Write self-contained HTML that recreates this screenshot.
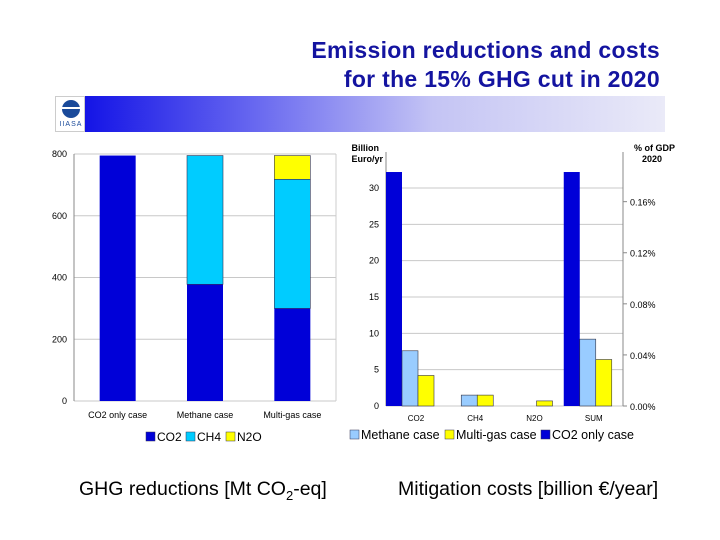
<!DOCTYPE html>
<html><head><meta charset="utf-8"><style>
body{margin:0;width:720px;height:540px;background:#fff;overflow:hidden;font-family:"Liberation Sans",sans-serif;position:relative}
.abs{position:absolute}
</style></head><body>
<div class="abs" style="right:60px;top:36px;text-align:right;color:#1414a0;font-weight:bold;font-size:23px;line-height:29px;letter-spacing:0.3px">Emission reductions and costs<br>for the 15% GHG cut in 2020</div>
<div class="abs" style="left:85px;top:96px;width:580px;height:36px;background:linear-gradient(90deg,#1414e6 0%,#6a6af0 30%,#c4c4f4 60%,#eaeaf8 100%)"></div>
<div class="abs" style="left:55px;top:96px;width:30px;height:36px;border:1px solid #ccc;box-sizing:border-box;background:#fff">
<div style="position:absolute;left:6px;top:3px;width:18px;height:18px;border-radius:50%;background:#1a4a9a"></div>
<div style="position:absolute;left:5px;top:10px;width:20px;height:2px;background:#fff"></div>
<div style="position:absolute;left:0;top:24px;width:30px;text-align:center;font-size:7px;color:#1a4a9a;letter-spacing:1px">IIASA</div>
</div>
<svg class="abs" style="left:0;top:0" width="720" height="540" id="svg"></svg>
<div class="abs" style="left:79px;top:478px;font-size:19.5px">GHG reductions [Mt CO<sub style="font-size:13px">2</sub>-eq]</div>
<div class="abs" style="left:398px;top:478px;font-size:19.5px">Mitigation costs [billion €/year]</div>
<script>
const leftCats=["CO2 only case","Methane case","Multi-gas case"];
const leftCO2=[795,378,300];
const leftCH4=[0,417,418];
const leftN2O=[0,0,77];
const leftTicks=[0,200,400,600,800];
const rightCats=["CO2","CH4","N2O","SUM"];
const rightCO2only=[32.2,0,0,32.2];
const rightMethane=[7.6,1.5,0,9.2];
const rightMulti=[4.2,1.5,0.7,6.4];
const rightTicks=[0,5,10,15,20,25,30];
const pctTicks=["0.00%","0.04%","0.08%","0.12%","0.16%"];
const pctVals=[0,0.04,0.08,0.12,0.16];
const NS="http://www.w3.org/2000/svg";
const svg=document.getElementById('svg');
function mk(t,a,txt){const e=document.createElementNS(NS,t);for(const k in a)e.setAttribute(k,a[k]);if(txt!=null)e.textContent=txt;svg.appendChild(e);return e;}
const L={x0:74,x1:336,y0:401,y1:154,max:800};
const ly=v=>L.y0-(v/L.max)*(L.y0-L.y1);
leftTicks.forEach(t=>{
 const g=mk('line',{x1:L.x0,x2:L.x1,y1:ly(t),y2:ly(t),stroke:'#c8c8c8','stroke-width':1});
 
 const l=mk('text',{x:67,y:ly(t)+3,'font-size':9,'text-anchor':'end',fill:'#000'},t);
 
});
mk('line',{x1:L.x0,x2:L.x0,y1:L.y1,y2:L.y0,stroke:'#888'});
mk('line',{x1:L.x1,x2:L.x1,y1:L.y1,y2:L.y0,stroke:'#ccc'});
const lw=(L.x1-L.x0)/leftCats.length;
leftCats.forEach((c,i)=>{
 const bx=L.x0+lw*i+lw/2-18;
 let base=0;
 [[leftCO2,'#0000d8','co2'],[leftCH4,'#00ccff','ch4'],[leftN2O,'#ffff00','n2o']].forEach(([arr,col,n])=>{
  const v=arr[i];if(v<=0)return;
  const r=mk('rect',{x:bx,y:ly(base+v),width:36,height:ly(base)-ly(base+v),fill:col,stroke:n==='co2'?'none':'#335',"stroke-width":n==='co2'?0:0.6});
  
  base+=v;
 });
 const t=mk('text',{x:L.x0+lw*i+lw/2,y:418,'font-size':9,'text-anchor':'middle'},c);
 
});
[['CO2','#0000d8',146],['CH4','#00ccff',186],['N2O','#ffff00',226]].forEach(([n,c,x])=>{
 const r=mk('rect',{x:x,y:432,width:9,height:9,fill:c,stroke:'#335','stroke-width':0.5});
 
 const t=mk('text',{x:x+11,y:441,'font-size':12},n);
 
});
const R={x0:386,x1:623,y0:406,yTop:152,max:35,s:(406-188)/30};
const ry=v=>R.y0-v*R.s;
rightTicks.forEach(t=>{
 const g=mk('line',{x1:R.x0,x2:R.x1,y1:ry(t),y2:ry(t),stroke:'#c8c8c8'});
 
 const l=mk('text',{x:379,y:ry(t)+3,'font-size':9,'text-anchor':'end'},t);
 
});
const pctScale=7.03/0.04;
pctVals.forEach((p,i)=>{
 const y=ry(p*pctScale);
 mk('line',{x1:R.x1,x2:R.x1+4,y1:y,y2:y,stroke:'#888'});
 const l=mk('text',{x:630,y:y+4,'font-size':9},pctTicks[i]);
 
});
mk('line',{x1:R.x0,x2:R.x0,y1:R.yTop,y2:R.y0,stroke:'#888'});
mk('line',{x1:R.x1,x2:R.x1,y1:R.yTop,y2:R.y0,stroke:'#888'});
mk('text',{x:379,y:151,'font-size':9,'font-weight':'bold','text-anchor':'end'},'Billion');
mk('text',{x:383,y:162,'font-size':9,'font-weight':'bold','text-anchor':'end'},'Euro/yr');
mk('text',{x:675,y:151,'font-size':9,'font-weight':'bold','text-anchor':'end'},'% of GDP');
mk('text',{x:662,y:162,'font-size':9,'font-weight':'bold','text-anchor':'end'},'2020');
const gw=(R.x1-R.x0)/rightCats.length;
rightCats.forEach((c,i)=>{
 const gx=R.x0+gw*i;
 [[rightCO2only,'#0000d8','co2only'],[rightMethane,'#99ccff','methane'],[rightMulti,'#ffff00','multi']].forEach(([arr,col,n],j)=>{
  const v=arr[i];if(v<=0)return;
  const r=mk('rect',{x:gx+j*16,y:ry(v),width:16,height:ry(0)-ry(v),fill:col,stroke:n==='co2only'?'none':'#334','stroke-width':0.6});
  
 });
 const t=mk('text',{x:gx+30,y:421,'font-size':8,'text-anchor':'middle'},c);
 
});
[['Methane case','#99ccff',350],['Multi-gas case','#ffff00',445],['CO2 only case','#0000d8',541]].forEach(([n,c,x])=>{
 const r=mk('rect',{x:x,y:430,width:9,height:9,fill:c,stroke:'#335','stroke-width':0.5});
 
 const t=mk('text',{x:x+11,y:439,'font-size':12.5},n);
 
});
</script>
</body></html>
